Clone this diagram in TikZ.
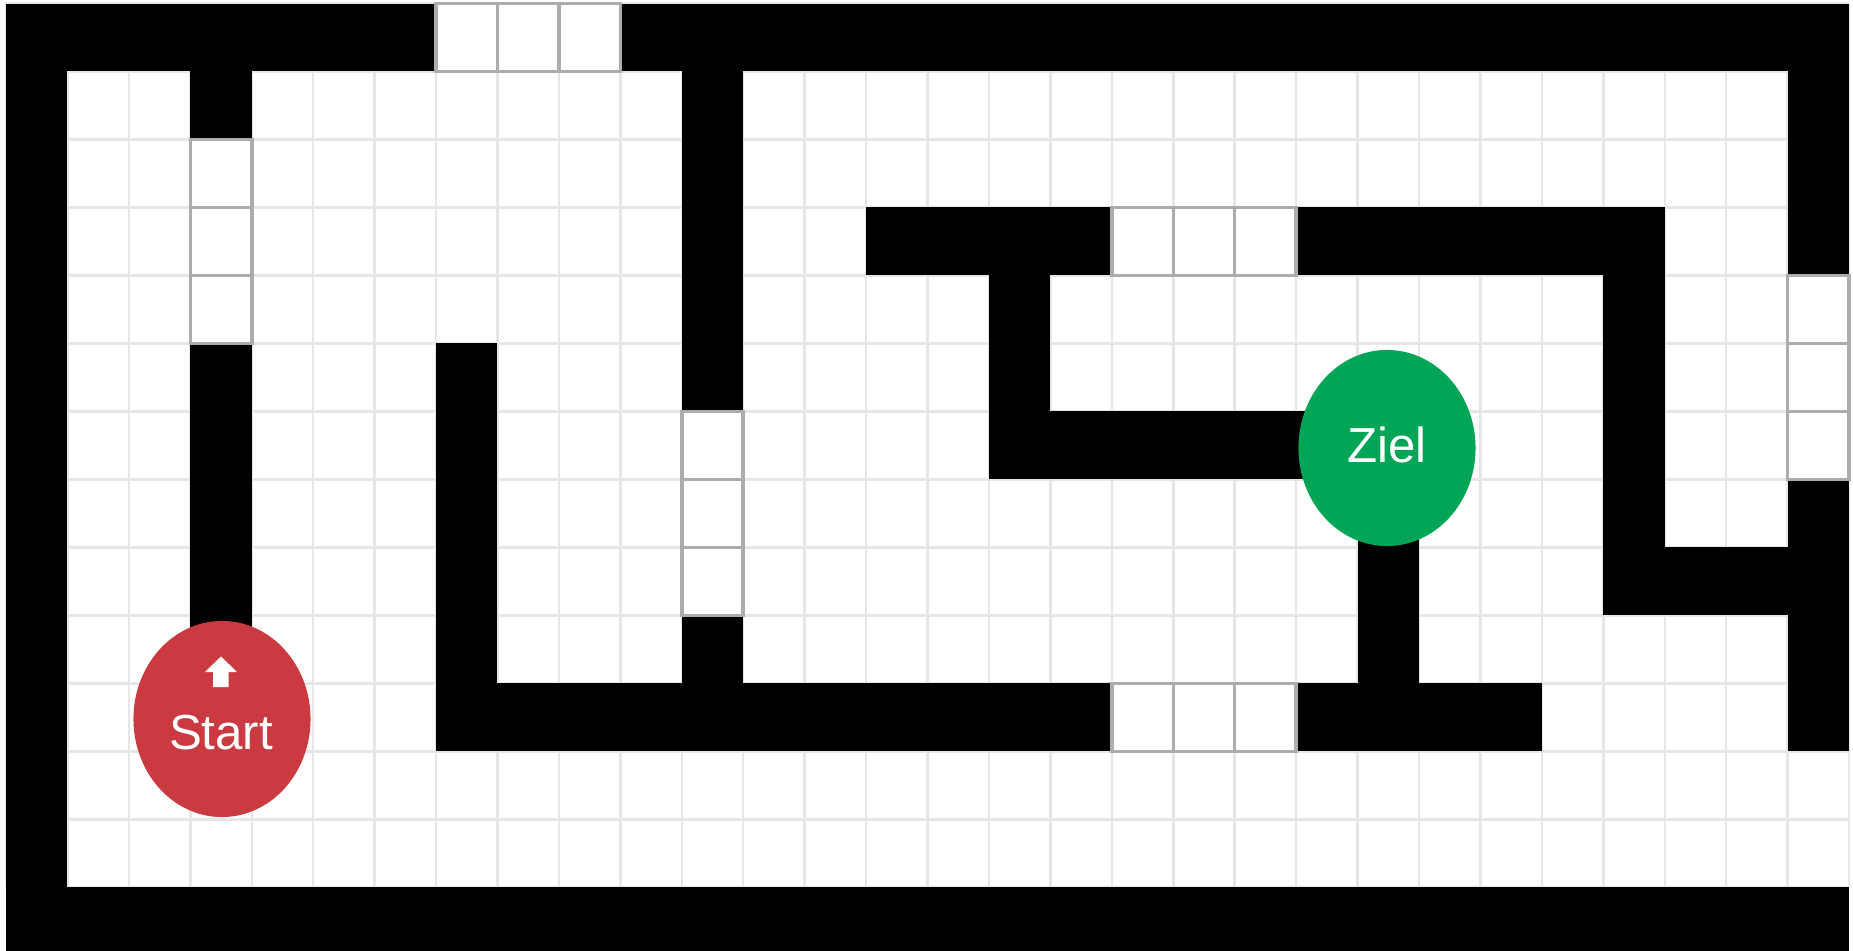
\documentclass[tikz,border=0pt]{standalone}
\usepackage{fontspec}
\setmainfont{Liberation Sans}
\usetikzlibrary{shapes.geometric}
\definecolor{startred}{RGB}{203,58,64}
\definecolor{zielgreen}{RGB}{0,165,86}
\definecolor{gridgray}{RGB}{230,230,230}
\definecolor{doorgray}{RGB}{172,172,172}
\begin{document}
\begin{tikzpicture}[x=0.01cm,y=-0.01cm,
  wall/.style={fill=black},
  door/.style={draw=doorgray,line width=1pt,fill=white},
  gridline/.style={draw=gridgray,line width=0.7pt},
  goal/.style={ellipse,minimum width=1.77cm,minimum height=1.96cm,inner sep=0pt},
  lbl/.style={text=white,font=\fontsize{14}{17}\selectfont,inner sep=0pt}]
\useasboundingbox (0,0) rectangle (1853,951);
\fill[white] (0,0) rectangle (1853,951);
\begin{scope}[shift={(6,3.5)},x=0.614cm,y=-0.6795cm]
  \foreach \c in {0,...,30} \draw[gridline] (\c,0) -- (\c,13);
  \foreach \r in {0,...,13} \draw[gridline] (0,\r) -- (30,\r);
  % outer walls
  \fill[wall] (0,0) rectangle (7,1);
  \fill[wall] (10,0) rectangle (30,1);
  \fill[wall] (0,0) rectangle (1,14);
  \fill[wall] (0,13) rectangle (30,14);
  \fill[wall] (29,0) rectangle (30,4);
  \fill[wall] (29,7) rectangle (30,11);
  % inner walls
  \fill[wall] (3,1) rectangle (4,2);
  \fill[wall] (3,5) rectangle (4,10);
  \fill[wall] (7,5) rectangle (8,11);
  \fill[wall] (7,10) rectangle (18,11);
  \fill[wall] (21,10) rectangle (25,11);
  \fill[wall] (11,1) rectangle (12,6);
  \fill[wall] (11,9) rectangle (12,10);
  \fill[wall] (14,3) rectangle (18,4);
  \fill[wall] (21,3) rectangle (27,4);
  \fill[wall] (16,4) rectangle (17,7);
  \fill[wall] (16,6) rectangle (22,7);
  \fill[wall] (22,7) rectangle (23,11);
  \fill[wall] (26,3) rectangle (27,9);
  \fill[wall] (26,8) rectangle (30,9);
  % doors
  \foreach \c in {7,8,9} \draw[door] (\c,0) rectangle ++(1,1);
  \foreach \r in {2,3,4} \draw[door] (3,\r) rectangle ++(1,1);
  \foreach \r in {6,7,8} \draw[door] (11,\r) rectangle ++(1,1);
  \foreach \c in {18,19,20} \draw[door] (\c,3) rectangle ++(1,1);
  \foreach \c in {18,19,20} \draw[door] (\c,10) rectangle ++(1,1);
  \foreach \r in {4,5,6} \draw[door] (29,\r) rectangle ++(1,1);
\end{scope}
% start
\node[goal,fill=startred] (start) at (222,719) {};
\fill[white] (205,672) -- (221,656.5) -- (237,672) -- (228.5,672) -- (228.5,687) -- (213,687) -- (213,672) -- cycle;
\node[lbl] (starttext) at (221,733) {Start};
% goal
\node[goal,fill=zielgreen] (ziel) at (1387,448) {};
\node[lbl] (zieltext) at (1387,445) {Ziel};
\end{tikzpicture}
\end{document}
